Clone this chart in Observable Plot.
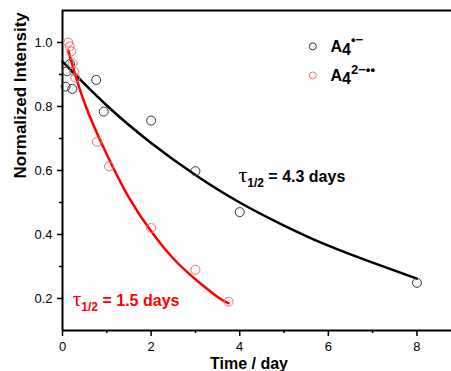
<!DOCTYPE html>
<html><head><meta charset="utf-8">
<script src="https://cdn.jsdelivr.net/npm/d3@7"></script>
<script src="https://cdn.jsdelivr.net/npm/@observablehq/plot@0.6"></script>
<style>body{margin:0;background:#fff} svg{display:block}</style>
</head><body><div id="chart"></div>
<script>
// Measured data (A4•− black, A4 2−•• red)
const blackT = [0.07, 0.10, 0.17, 0.22, 0.76, 0.93, 2.0, 3.0, 4.0, 8.0];
const blackI = [0.862, 0.910, 0.933, 0.855, 0.883, 0.784, 0.756, 0.598, 0.470, 0.249];
const redT = [0.13, 0.165, 0.20, 0.23, 0.26, 0.29, 0.78, 1.05, 2.0, 3.0, 3.75];
const redI = [1.000, 0.988, 0.972, 0.935, 0.910, 0.890, 0.690, 0.613, 0.420, 0.290, 0.190];
// Fit curves
const blackFitT = [0, 1, 2, 3, 4, 5, 6, 7, 8];
const blackFitI = [0.940, 0.803, 0.686, 0.586, 0.500, 0.428, 0.365, 0.312, 0.262];
const redFitT = [0.13, 0.5, 1.0, 1.5, 2.0, 2.5, 3.0, 3.5, 3.75];
const redFitI = [0.975, 0.810, 0.650, 0.515, 0.410, 0.325, 0.260, 0.205, 0.185];
// Ticks
const xTicks = [0, 2, 4, 6, 8];
const xMinor = [1, 3, 5, 7];
const yTicks = [0.2, 0.4, 0.6, 0.8, 1.0];
const yMinor = [0.3, 0.5, 0.7, 0.9];
// Labels
const seriesNames = ["A4•−", "A42−••"];
const halfLifeLabels = ["τ1/2 = 4.3 days", "τ1/2 = 1.5 days"];
const xLabel = "Time / day";
const yLabel = "Normalized Intensity";

const blackPts = blackT.map((t, i) => ({t, v: blackI[i]}));
const redPts = redT.map((t, i) => ({t, v: redI[i]}));
const blackFit = blackFitT.map((t, i) => ({t, v: blackFitI[i]}));
const redFit = redFitT.map((t, i) => ({t, v: redFitI[i]}));

const legend = [
  {x: 5.65, y: 0.988, tx: 6.05, ty: 0.970, name: seriesNames[0], color: "#333333"},
  {x: 5.65, y: 0.897, tx: 6.05, ty: 0.881, name: seriesNames[1], color: "#f26d6d"}
];
const annots = [
  {x: 3.97, y: 0.563, text: halfLifeLabels[0], color: "#000"},
  {x: 0.226, y: 0.178, text: halfLifeLabels[1], color: "#ff0000"}
];

const chart = Plot.plot({
  width: 451, height: 371,
  marginTop: 10, marginBottom: 41, marginLeft: 62, marginRight: 0,
  style: {fontFamily: "'Liberation Sans', Arial, sans-serif", fontSize: "13px", color: "#000", background: "#fff"},
  x: {domain: [0, 8.78]},
  y: {domain: [0.1, 1.1]},
  marks: [
    Plot.axisX(xTicks, {tickSize: 6, tickPadding: 5, tickFormat: d => String(d), label: null, strokeWidth: 1.5, fontSize: 13}),
    Plot.axisX(xMinor, {tickSize: 3, tickFormat: () => "", label: null, strokeWidth: 1.5}),
    Plot.axisY(yTicks, {tickSize: 5, tickPadding: 5, tickFormat: d3.format(".1f"), label: null, strokeWidth: 1.5, fontSize: 13}),
    Plot.axisY(yMinor, {tickSize: 3, tickFormat: () => "", label: null, strokeWidth: 1.5}),
    Plot.ruleY([0.1], {strokeWidth: 2, stroke: "#000"}),
    Plot.ruleY([1.1], {strokeWidth: 2, stroke: "#000"}),
    Plot.ruleX([0], {strokeWidth: 2, stroke: "#000"}),
    Plot.line(blackFit, {x: "t", y: "v", stroke: "#000", strokeWidth: 2.5, curve: "natural"}),
    Plot.line(redFit, {x: "t", y: "v", stroke: "#ff0000", strokeWidth: 2.5, curve: "natural"}),
    Plot.dot(blackPts, {x: "t", y: "v", r: 4.5, stroke: "#333333", strokeWidth: 1, fill: "none"}),
    Plot.dot(redPts, {x: "t", y: "v", r: 4.5, stroke: "#f26d6d", strokeWidth: 1, fill: "none"}),
    Plot.dot(legend, {x: "x", y: "y", r: 3.5, stroke: "color", strokeWidth: 1, fill: "none"}),
    Plot.text(legend, {x: "tx", y: "ty", text: "name", textAnchor: "start", lineAnchor: "bottom", fontWeight: "bold", fontSize: 16, fill: "#000"}),
    Plot.text(annots, {x: "x", y: "y", text: "text", textAnchor: "start", lineAnchor: "bottom", fontWeight: "bold", fontSize: 16, fill: "color"}),
    Plot.text([xLabel], {frameAnchor: "bottom", text: d => d, dx: -8, dy: 38, lineAnchor: "bottom", fontWeight: "bold", fontSize: 16, fill: "#000"}),
    Plot.text([yLabel], {frameAnchor: "left", text: d => d, rotate: -90, dx: -42, dy: 8, fontWeight: "bold", fontSize: 17, fill: "#000"})
  ]
});
document.getElementById("chart").appendChild(chart);

// rich text formatting (sub/superscripts)
const NS = "http://www.w3.org/2000/svg";
function rich(el, parts) {
  el.textContent = "";
  for (const p of parts) {
    const ts = document.createElementNS(NS, "tspan");
    ts.textContent = p.t;
    if (p.size) ts.setAttribute("font-size", p.size);
    if (p.dy) ts.setAttribute("dy", p.dy);
    if (p.family) ts.setAttribute("font-family", p.family);
    if (p.weight) ts.setAttribute("font-weight", p.weight);
    el.appendChild(ts);
  }
}
chart.querySelectorAll("text").forEach(el => {
  const s = el.textContent;
  if (s === seriesNames[0]) {
    rich(el, [{t: "A"}, {t: "4", dy: 3}, {t: "•−", size: 13, dy: -11}]);
  } else if (s === seriesNames[1]) {
    rich(el, [{t: "A"}, {t: "4", dy: 3}, {t: "2−••", size: 13, dy: -10}]);
  } else if (s.startsWith("τ1/2")) {
    const rest = s.slice(4);
    rich(el, [{t: "τ", size: 22, family: "'Liberation Serif', serif", weight: "normal"}, {t: "1/2", size: 12, dy: 5}, {t: rest, dy: -5}]);
  }
});
</script>
</body></html>
